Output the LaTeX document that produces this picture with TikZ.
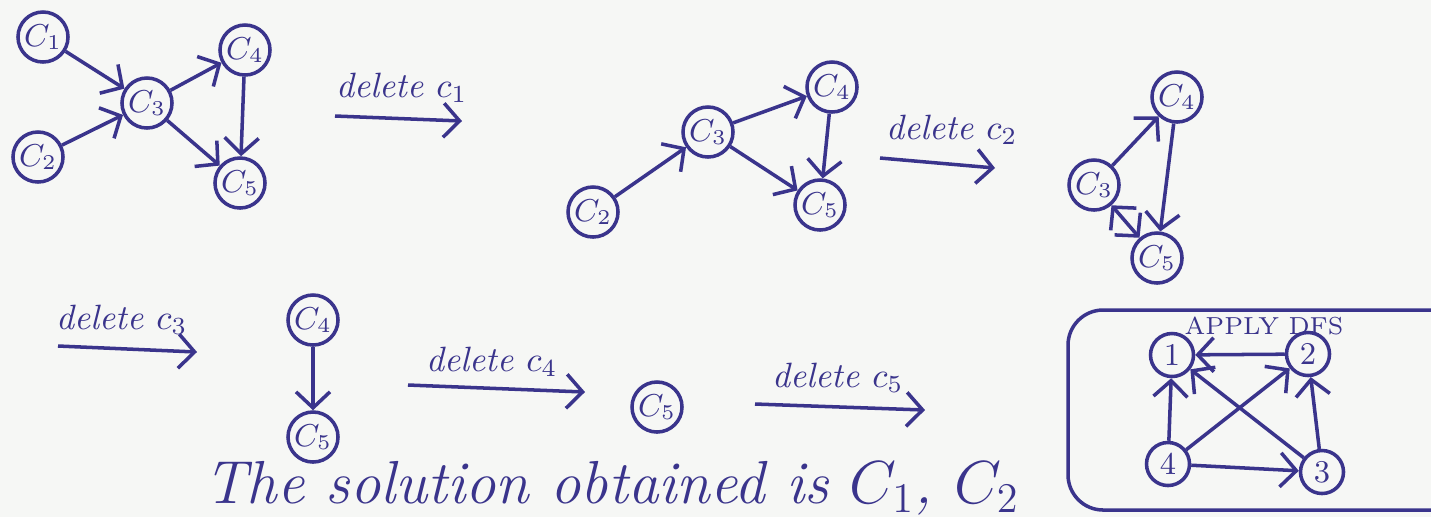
\documentclass[tikz,border=0pt]{standalone}
\usetikzlibrary{positioning,arrows.meta}
\definecolor{ink}{RGB}{58,52,140}
\definecolor{paper}{RGB}{246,247,245}
\tikzset{
    vertex/.style={
        draw=ink,
        circle,
        line width=1pt,
        minimum size=5mm,
        inner sep=0pt,
        text=ink,
        font=\small,
    },
    edge/.style={
        draw=ink,
        line width=1pt,
        -{Straight Barb[length=1.6mm,width=3.4mm]},
    },
    note/.style={
        text=ink,
        font=\itshape,
        inner sep=1pt,
    },
}

\begin{document}
\begin{tikzpicture}[x=0.01cm, y=-0.01cm]
    \fill[paper] (0,0) rectangle (1431,517);
    \clip (0,0) rectangle (1431,517);

    % starting graph
    \node[vertex] at (43,37) (g1c1) {$C_1$};
    \node[vertex] at (38,157) (g1c2) {$C_2$};
    \node[vertex] at (147,103) (g1c3) {$C_3$};
    \node[vertex] at (245,50) (g1c4) {$C_4$};
    \node[vertex] at (240,183) (g1c5) {$C_5$};
    \draw[edge] (g1c1) -- (g1c3);
    \draw[edge] (g1c2) -- (g1c3);
    \draw[edge] (g1c3) -- (g1c4);
    \draw[edge] (g1c3) -- (g1c5);
    \draw[edge] (g1c4) -- (g1c5);

    % delete c1
    \coordinate (d1s) at (335,116);
    \coordinate (d1e) at (462,121);
    \draw[edge] (d1s) -- (d1e);
    \node[note] at (402,88) (d1) {delete $c_1$};

    \node[vertex] at (708,132) (g2c3) {$C_3$};
    \node[vertex] at (832,87) (g2c4) {$C_4$};
    \node[vertex] at (820,205) (g2c5) {$C_5$};
    \node[vertex] at (593,212) (g2c2) {$C_2$};
    \draw[edge] (g2c2) -- (g2c3);
    \draw[edge] (g2c3) -- (g2c4);
    \draw[edge] (g2c3) -- (g2c5);
    \draw[edge] (g2c4) -- (g2c5);

    % delete c2
    \coordinate (d2s) at (880,158);
    \coordinate (d2e) at (995,168);
    \draw[edge] (d2s) -- (d2e);
    \node[note] at (952,130) (d2) {delete $c_2$};

    \node[vertex] at (1177,97) (g3c4) {$C_4$};
    \node[vertex] at (1094,185) (g3c3) {$C_3$};
    \node[vertex] at (1157,258) (g3c5) {$C_5$};
    \draw[edge] (g3c3) -- (g3c4);
    \draw[edge] (g3c4) -- (g3c5);
    \draw[edge, {Straight Barb[length=1.6mm,width=3.4mm]}-{Straight Barb[length=1.6mm,width=3.4mm]}] (g3c3) -- (g3c5);

    % delete c3
    \coordinate (d3s) at (58,346);
    \coordinate (d3e) at (197,352);
    \draw[edge] (d3s) -- (d3e);
    \node[note] at (122,320) (d3) {delete $c_3$};

    \node[vertex] at (313,320) (g4c4) {$C_4$};
    \node[vertex] at (313,437) (g4c5) {$C_5$};
    \draw[edge] (g4c4) -- (g4c5);

    % delete c4
    \coordinate (d4s) at (408,385);
    \coordinate (d4e) at (585,392);
    \draw[edge] (d4s) -- (d4e);
    \node[note] at (492,362) (d4) {delete $c_4$};

    \node[vertex] at (657,407) (g5c5) {$C_5$};

    % delete c5
    \coordinate (d5s) at (755,404);
    \coordinate (d5e) at (925,410);
    \draw[edge] (d5s) -- (d5e);
    \node[note] at (838,378) (d5) {delete $c_5$};

    % DFS example in a box
    \draw[ink, line width=1pt, rounded corners=10pt] (1068,310) rectangle (1480,510);
    \node[text=ink, font=\scriptsize] at (1264,326) (dfs) {APPLY DFS};
    \node[vertex, minimum size=4.3mm] at (1172,355) (v1) {1};
    \node[vertex, minimum size=4.3mm] at (1308,354) (v2) {2};
    \node[vertex, minimum size=4.3mm] at (1322,472) (v3) {3};
    \node[vertex, minimum size=4.3mm] at (1168,464) (v4) {4};
    \draw[edge] (v2) -- (v1);
    \draw[edge] (v4) -- (v1);
    \draw[edge] (v3) -- (v1);
    \draw[edge] (v4) -- (v2);
    \draw[edge] (v3) -- (v2);
    \draw[edge] (v4) -- (v3);

    \node[note, font=\LARGE\itshape, anchor=base west] at (200,503) (sol) {The solution obtained is $C_1$, $C_2$};
\end{tikzpicture}
\end{document}
